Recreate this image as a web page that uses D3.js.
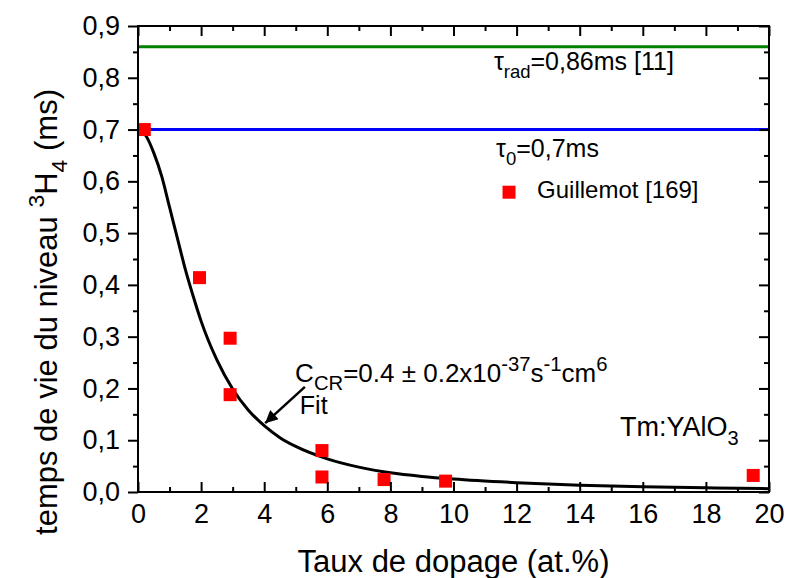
<!DOCTYPE html>
<html><head><meta charset="utf-8">
<script src="https://cdn.jsdelivr.net/npm/d3@7"></script>
<style>body{margin:0;background:#fff}svg{display:block;font-family:Arial,"Liberation Sans",sans-serif}</style>
</head><body><svg id="c" width="786" height="578"></svg>
<script>
// ---- data ----
const dopage   = [0.2, 1.95, 2.92, 2.92, 5.83, 5.83, 7.8, 9.75, 19.5];
const lifetime = [0.700, 0.414, 0.297, 0.188, 0.080, 0.029, 0.024, 0.021, 0.032];
const fitX = [0, 0.25, 0.5, 0.75, 1, 1.25, 1.5, 1.75, 2, 2.5, 3, 3.5, 4, 4.5, 5, 6, 7, 8, 9, 10, 12, 14, 16, 18, 20];
const fitY = [0.700, 0.688, 0.655, 0.610, 0.550, 0.490, 0.430, 0.378, 0.330, 0.255, 0.199, 0.158, 0.128, 0.105, 0.088, 0.064, 0.048, 0.037, 0.030, 0.025, 0.018, 0.013, 0.010, 0.008, 0.0065];
const tauRad = 0.86;
const tau0 = 0.7;
const xTickValues = [0, 2, 4, 6, 8, 10, 12, 14, 16, 18, 20];
const xTickLabels = ["0", "2", "4", "6", "8", "10", "12", "14", "16", "18", "20"];
const yTickValues = [0, 0.1, 0.2, 0.3, 0.4, 0.5, 0.6, 0.7, 0.8, 0.9];
const yTickLabels = ["0,0", "0,1", "0,2", "0,3", "0,4", "0,5", "0,6", "0,7", "0,8", "0,9"];
const xMinor = [1, 3, 5, 7, 9, 11, 13, 15, 17, 19];
const yMinor = [0.05, 0.15, 0.25, 0.35, 0.45, 0.55, 0.65, 0.75, 0.85];

// ---- layout ----
const L = 138, R = 769, T = 26, B = 492;
const svg = d3.select("#c");
const x = d3.scaleLinear().domain([0, 20]).range([L, R]);
const y = d3.scaleLinear().domain([0, 0.9]).range([B, T]);

const tickFont = 27;

// horizontal reference lines
svg.append("line").attr("x1", x(0)).attr("x2", x(20)).attr("y1", y(tauRad)).attr("y2", y(tauRad))
  .attr("stroke", "#008000").attr("stroke-width", 3);
svg.append("line").attr("x1", x(0)).attr("x2", x(20)).attr("y1", y(tau0)).attr("y2", y(tau0))
  .attr("stroke", "#0000ff").attr("stroke-width", 3);

// fit curve
const fitData = fitX.map((d, i) => [d, fitY[i]]);
svg.append("path").datum(fitData)
  .attr("d", d3.line().x(d => x(d[0])).y(d => y(d[1])).curve(d3.curveMonotoneX))
  .attr("fill", "none").attr("stroke", "#000").attr("stroke-width", 3);

// data points
const sq = 13;
svg.append("g").selectAll("rect").data(dopage.map((d, i) => [d, lifetime[i]])).join("rect")
  .attr("x", d => x(d[0]) - sq / 2).attr("y", d => y(d[1]) - sq / 2)
  .attr("width", sq).attr("height", sq).attr("fill", "#ff0000");

// axes
function styleAxis(g) {
  g.select(".domain").remove();
  g.selectAll("line").attr("stroke", "#000").attr("stroke-width", 2);
  g.selectAll("text").attr("font-size", tickFont).attr("fill", "#000")
    .attr("font-family", "Arial, 'Liberation Sans', sans-serif");
}
svg.append("g").attr("transform", `translate(${L},0)`)
  .call(d3.axisLeft(y).tickValues(yTickValues).tickSize(10).tickPadding(8)
    .tickFormat((d, i) => yTickLabels[i])).call(styleAxis);
svg.append("g").attr("transform", `translate(${L},0)`)
  .call(d3.axisLeft(y).tickValues(yMinor).tickSize(5).tickFormat("")).call(styleAxis);
svg.append("g").attr("transform", `translate(${R},0)`)
  .call(d3.axisRight(y).tickValues(yTickValues).tickSize(-10).tickFormat("")).call(styleAxis);
svg.append("g").attr("transform", `translate(${R},0)`)
  .call(d3.axisRight(y).tickValues(yMinor).tickSize(-5).tickFormat("")).call(styleAxis);
svg.append("g").attr("transform", `translate(0,${B})`)
  .call(d3.axisBottom(x).tickValues(xTickValues).tickSize(-10).tickPadding(12)
    .tickFormat((d, i) => xTickLabels[i])).call(styleAxis);
svg.append("g").attr("transform", `translate(0,${B})`)
  .call(d3.axisBottom(x).tickValues(xMinor).tickSize(-5).tickFormat("")).call(styleAxis);
svg.append("g").attr("transform", `translate(0,${T})`)
  .call(d3.axisTop(x).tickValues(xTickValues).tickSize(-10).tickFormat("")).call(styleAxis);
svg.append("g").attr("transform", `translate(0,${T})`)
  .call(d3.axisTop(x).tickValues(xMinor).tickSize(-5).tickFormat("")).call(styleAxis);

// frame
svg.append("rect").attr("x", L).attr("y", T).attr("width", R - L).attr("height", B - T)
  .attr("fill", "none").attr("stroke", "#000").attr("stroke-width", 2);

// rich text helper
function rich(parent, px, py, parts, size, extra, supScale) {
  const k = supScale || 0.74;
  const t = parent.append("text").attr("x", px).attr("y", py).attr("font-size", size).attr("fill", "#000");
  if (extra) extra(t);
  let shift = 0;
  parts.forEach(p => {
    let target = 0, fs = size;
    if (p.sub) { target = 0.32 * size; fs = k * size; }
    if (p.sup) { target = -0.42 * size; fs = k * size; }
    t.append("tspan").attr("dy", target - shift).attr("font-size", fs).text(p.t);
    shift = target;
  });
  return t;
}

const annFont = 25;
rich(svg, x(11.28), y(0.815), [{t: "τ"}, {t: "rad", sub: true}, {t: "=0,86ms [11]"}], annFont);
rich(svg, x(11.35), y(0.647), [{t: "τ"}, {t: "0", sub: true}, {t: "=0,7ms"}], annFont);

// legend
svg.append("rect").attr("x", x(11.76) - sq / 2).attr("y", y(0.579) - sq / 2)
  .attr("width", sq).attr("height", sq).attr("fill", "#ff0000");
rich(svg, x(12.65), y(0.568), [{t: "Guillemot [169]"}], 24);

// fit annotation
rich(svg, x(4.98), y(0.213), [{t: "C"}, {t: "CR", sub: true}, {t: "=0.4 ± 0.2x10"}, {t: "-37", sup: true},
  {t: "s"}, {t: "-1", sup: true}, {t: "cm"}, {t: "6", sup: true}], 26, null, 0.78);
rich(svg, x(5.13), y(0.151), [{t: "Fit"}], annFont);

// arrow
svg.append("defs").append("marker").attr("id", "ah").attr("viewBox", "0 0 10 10")
  .attr("refX", 10).attr("refY", 5).attr("markerWidth", 6).attr("markerHeight", 5)
  .attr("markerUnits", "strokeWidth").attr("orient", "auto")
  .append("path").attr("d", "M0,0 L10,5 L0,10 Z").attr("fill", "#000");
svg.append("line").attr("x1", x(5.29)).attr("y1", y(0.203)).attr("x2", x(4.03)).attr("y2", y(0.133))
  .attr("stroke", "#000").attr("stroke-width", 2.5).attr("marker-end", "url(#ah)");

// sample label
rich(svg, x(15.28), y(0.108), [{t: "Tm:YAlO"}, {t: "3", sub: true}], 27);

// axis titles
svg.append("text").attr("x", (L + R) / 2).attr("y", 572).attr("text-anchor", "middle")
  .attr("font-size", 31).text("Taux de dopage (at.%)");
rich(svg, 0, 0, [{t: "temps de vie du niveau "}, {t: "3", sup: true}, {t: "H"}, {t: "4", sub: true}, {t: " (ms)"}], 31,
  t => t.attr("text-anchor", "middle").attr("transform", "translate(57,312) rotate(-90)"));
</script></body></html>
